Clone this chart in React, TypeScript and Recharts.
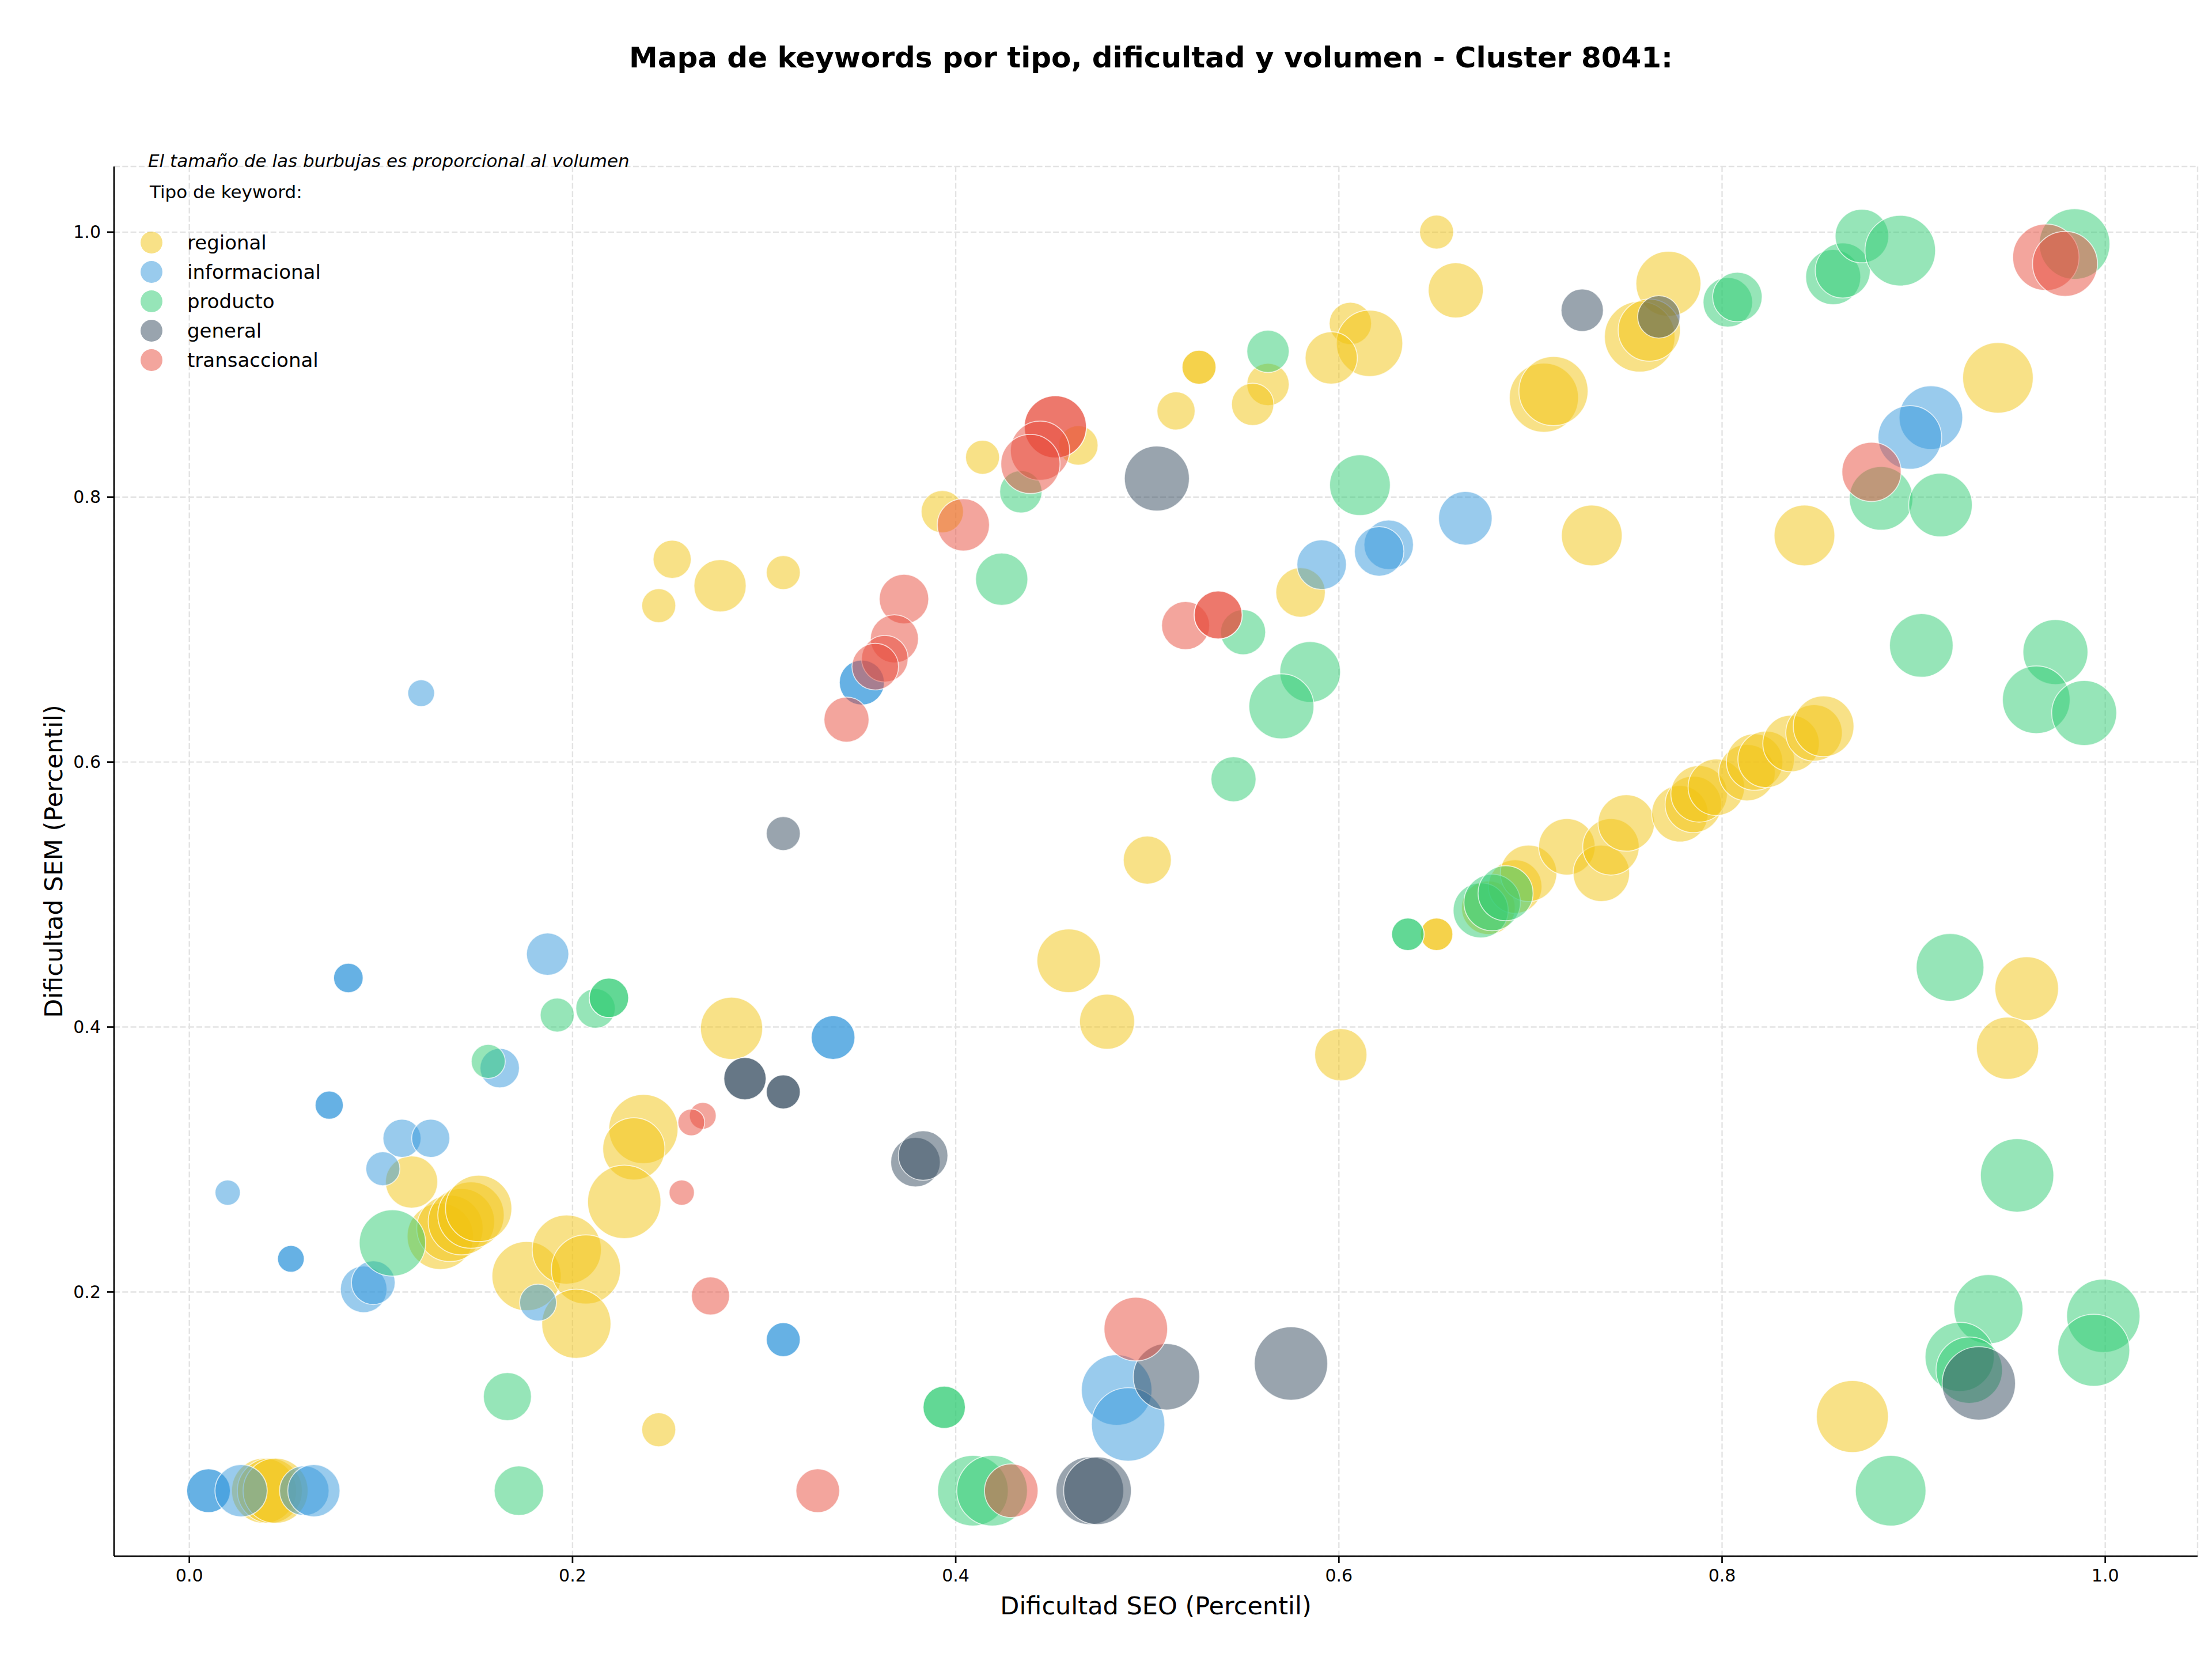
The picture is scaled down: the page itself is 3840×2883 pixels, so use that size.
import { ScatterChart, Scatter, XAxis, YAxis, ZAxis, CartesianGrid, Legend, Label } from 'recharts'

type Pt = [number, number, number]

// [dificultad SEO, dificultad SEM, volumen]
const regional: Pt[] = [
  [0.283, 0.399, 19400], [0.116, 0.283, 13700], [0.237, 0.323, 24000], [0.232, 0.308, 19400],
  [0.227, 0.268, 27000], [0.131, 0.242, 22100], [0.136, 0.248, 22100], [0.142, 0.253, 22100],
  [0.147, 0.258, 22100], [0.151, 0.263, 22100], [0.176, 0.212, 24000], [0.197, 0.232, 24000],
  [0.207, 0.217, 24000], [0.202, 0.176, 24000], [0.245, 0.096, 5800], [0.039, 0.05, 21200],
  [0.042, 0.05, 21200], [0.045, 0.05, 21200], [0.5, 0.526, 11600], [0.459, 0.45, 20300],
  [0.479, 0.404, 15200], [0.601, 0.379, 13700], [0.651, 0.47, 5300], [0.651, 0.47, 5300],
  [0.959, 0.429, 20300], [0.949, 0.384, 19400], [0.868, 0.106, 26000], [0.252, 0.753, 7300],
  [0.245, 0.718, 5800], [0.277, 0.733, 13700], [0.31, 0.743, 5800], [0.651, 1.0, 5800],
  [0.661, 0.956, 15200], [0.606, 0.931, 9000], [0.616, 0.916, 22100], [0.596, 0.905, 13700],
  [0.563, 0.885, 9000], [0.555, 0.87, 9000], [0.527, 0.898, 5800], [0.527, 0.898, 5800],
  [0.515, 0.865, 7300], [0.464, 0.839, 7800], [0.414, 0.83, 5800], [0.393, 0.789, 9000],
  [0.58, 0.728, 12300], [0.772, 0.961, 21200], [0.757, 0.921, 25000], [0.762, 0.926, 19400],
  [0.707, 0.875, 24000], [0.712, 0.88, 24000], [0.944, 0.89, 25000], [0.732, 0.771, 18500],
  [0.843, 0.771, 18500], [0.678, 0.49, 14400], [0.692, 0.506, 14400], [0.699, 0.516, 16000],
  [0.719, 0.536, 16000], [0.737, 0.516, 16000], [0.742, 0.536, 16000], [0.75, 0.554, 16000],
  [0.778, 0.561, 16000], [0.785, 0.568, 16000], [0.788, 0.576, 16000], [0.797, 0.581, 16000],
  [0.813, 0.592, 16000], [0.817, 0.6, 16000], [0.823, 0.602, 16000], [0.836, 0.614, 16000],
  [0.848, 0.622, 16000], [0.853, 0.627, 18500],
]

const informacional: Pt[] = [
  [0.083, 0.437, 4400], [0.083, 0.437, 4400], [0.187, 0.455, 9000], [0.162, 0.369, 7800],
  [0.073, 0.341, 4000], [0.073, 0.341, 4000], [0.111, 0.316, 7300], [0.126, 0.316, 7300],
  [0.101, 0.293, 5800], [0.02, 0.275, 3200], [0.091, 0.202, 10900], [0.096, 0.207, 9600],
  [0.053, 0.225, 3600], [0.053, 0.225, 3600], [0.182, 0.192, 6800], [0.31, 0.164, 5800],
  [0.31, 0.164, 5800], [0.01, 0.05, 9600], [0.01, 0.05, 9600], [0.027, 0.05, 13700],
  [0.06, 0.05, 12300], [0.065, 0.05, 13700], [0.336, 0.392, 9600], [0.336, 0.392, 9600],
  [0.484, 0.126, 25000], [0.49, 0.1, 27000], [0.121, 0.652, 3600], [0.351, 0.66, 10200],
  [0.351, 0.66, 10200], [0.666, 0.784, 14400], [0.591, 0.749, 12300], [0.626, 0.764, 12300],
  [0.621, 0.759, 12300], [0.909, 0.86, 20300], [0.898, 0.845, 20300],
]

const producto: Pt[] = [
  [0.192, 0.409, 5800], [0.212, 0.414, 7800], [0.219, 0.422, 7800], [0.219, 0.422, 7800],
  [0.156, 0.374, 5800], [0.106, 0.237, 22100], [0.166, 0.121, 11600], [0.172, 0.05, 12300],
  [0.394, 0.113, 9000], [0.394, 0.113, 9000], [0.409, 0.05, 25000], [0.419, 0.05, 25000],
  [0.636, 0.47, 5300], [0.636, 0.47, 5300], [0.674, 0.488, 15200], [0.68, 0.494, 16000],
  [0.687, 0.501, 15200], [0.919, 0.445, 23000], [0.954, 0.288, 27000], [0.939, 0.187, 24000],
  [0.999, 0.182, 27000], [0.994, 0.156, 26000], [0.924, 0.151, 24000], [0.929, 0.141, 22100],
  [0.888, 0.05, 25000], [0.563, 0.91, 9000], [0.434, 0.804, 9000], [0.424, 0.738, 13700],
  [0.55, 0.698, 10200], [0.611, 0.809, 18500], [0.585, 0.668, 18500], [0.57, 0.642, 21200],
  [0.545, 0.587, 10200], [0.803, 0.947, 12300], [0.808, 0.951, 12300], [0.858, 0.966, 15200],
  [0.863, 0.971, 15200], [0.873, 0.997, 14400], [0.893, 0.986, 25000], [0.984, 0.991, 25000],
  [0.883, 0.799, 20300], [0.914, 0.794, 20300], [0.904, 0.688, 20300], [0.974, 0.683, 21200],
  [0.964, 0.647, 23000], [0.989, 0.637, 21200],
]

const general: Pt[] = [
  [0.29, 0.361, 9000], [0.29, 0.361, 9000], [0.31, 0.351, 5800], [0.31, 0.351, 5800],
  [0.379, 0.298, 12300], [0.383, 0.303, 12300], [0.47, 0.05, 23000], [0.474, 0.05, 23000],
  [0.51, 0.136, 22100], [0.575, 0.146, 27000], [0.934, 0.131, 27000], [0.31, 0.546, 5800],
  [0.505, 0.814, 21200], [0.727, 0.941, 9000], [0.767, 0.936, 9000],
]

const transaccional: Pt[] = [
  [0.268, 0.333, 3600], [0.262, 0.328, 3600], [0.257, 0.275, 3200], [0.272, 0.197, 7300],
  [0.328, 0.05, 9600], [0.429, 0.05, 14400], [0.494, 0.172, 20300], [0.452, 0.853, 19400],
  [0.452, 0.853, 19400], [0.444, 0.835, 17600], [0.439, 0.825, 17600], [0.404, 0.779, 13700],
  [0.373, 0.723, 12300], [0.368, 0.693, 11600], [0.363, 0.678, 10900], [0.358, 0.672, 10900],
  [0.343, 0.632, 10200], [0.52, 0.703, 11600], [0.537, 0.711, 11600], [0.537, 0.711, 11600],
  [0.969, 0.981, 22100], [0.979, 0.976, 21200], [0.878, 0.819, 17600],
]

const tipos = [
  { name: 'regional', color: '#f1c40f', points: regional },
  { name: 'informacional', color: '#3498db', points: informacional },
  { name: 'producto', color: '#2ecc71', points: producto },
  { name: 'general', color: '#34495e', points: general },
  { name: 'transaccional', color: '#e74c3c', points: transaccional },
]

const xTicks = [0, 0.2, 0.4, 0.6, 0.8, 1.0]
const yTicks = [0.2, 0.4, 0.6, 0.8, 1.0]

const FONT = 'DejaVu Sans'
const W = 3840
const H = 2883
const AREA_PER_VOL = 0.4711

const allVol = tipos.flatMap((t) => t.points.map((p) => p[2]))
const vMin = Math.min(...allVol)
const vMax = Math.max(...allVol)

const toRows = (pts: Pt[]) => pts.map(([seo, sem, vol]) => ({ seo, sem, vol }))

// legend keeps the series order, not the alphabetical one
const renderLegend = (props: any) => {
  const payload = props.payload || []
  const order = tipos.map((t) => t.name)
  const items = [...payload].sort((a: any, b: any) => order.indexOf(a.value) - order.indexOf(b.value))
  return (
    <div style={{ position: 'relative', fontFamily: FONT, color: '#000' }}>
      <div style={{ position: 'absolute', left: 257, top: 259, fontSize: 31, fontStyle: 'italic', whiteSpace: 'nowrap', lineHeight: '40px' }}>
        El tamaño de las burbujas es proporcional al volumen
      </div>
      <div style={{ position: 'absolute', left: 260, top: 313, fontSize: 31, whiteSpace: 'nowrap', lineHeight: '40px' }}>
        Tipo de keyword:
      </div>
      {items.map((entry: any, i: number) => (
        <div
          key={entry.value}
          style={{ position: 'absolute', left: 244, top: 401 + i * 51, height: 40, display: 'flex', alignItems: 'center', whiteSpace: 'nowrap' }}
        >
          <svg width={38} height={38}>
            <circle cx={19} cy={19} r={19} fill={entry.color} fillOpacity={0.5} />
          </svg>
          <span style={{ marginLeft: 43, fontSize: 34 }}>{entry.value}</span>
        </div>
      ))}
    </div>
  )
}

export default function App() {
  return (
    <div style={{ position: 'relative', width: W, height: H, background: '#fff', fontFamily: FONT }}>
      <style>{'body{margin:0}'}</style>
      <div
        style={{
          position: 'absolute', left: 198, width: 3600, top: 71, lineHeight: '58px',
          textAlign: 'center', fontSize: 50, fontWeight: 'bold', color: '#000',
        }}
      >
        Mapa de keywords por tipo, dificultad y volumen - Cluster 8041:
      </div>
      <ScatterChart width={W} height={H} margin={{ top: 289, right: 25, bottom: 82, left: 78 }}>
        <CartesianGrid stroke="#e3e3e3" strokeWidth={2.4} strokeDasharray="10 4.3" />
        <XAxis
          type="number"
          dataKey="seo"
          domain={[-0.0393, 1.0482]}
          ticks={xTicks}
          allowDataOverflow
          height={100}
          tickFormatter={(v: number) => v.toFixed(1)}
          tick={{ fontSize: 30, fill: '#000', fontFamily: FONT }}
          tickSize={12}
          tickMargin={11}
          tickLine={{ stroke: '#000', strokeWidth: 2.7 }}
          axisLine={{ stroke: '#000', strokeWidth: 2.7 }}
        >
          <Label
            content={(p: any) => (
              <text
                x={p.viewBox.x + p.viewBox.width / 2}
                y={p.viewBox.y + 86}
                textAnchor="middle"
                dominantBaseline="central"
                fontSize={43}
                fontFamily={FONT}
                fill="#000"
              >
                Dificultad SEO (Percentil)
              </text>
            )}
          />
        </XAxis>
        <YAxis
          type="number"
          dataKey="sem"
          domain={[0.0006, 1.0495]}
          ticks={yTicks}
          allowDataOverflow
          width={120}
          tickFormatter={(v: number) => v.toFixed(1)}
          tick={{ fontSize: 30, fill: '#000', fontFamily: FONT }}
          tickSize={12}
          tickMargin={11}
          tickLine={{ stroke: '#000', strokeWidth: 2.7 }}
          axisLine={{ stroke: '#000', strokeWidth: 2.7 }}
        >
          <Label
            content={(p: any) => {
              const cx = p.viewBox.x + 15
              const cy = p.viewBox.y + p.viewBox.height / 2
              return (
                <text
                  x={cx}
                  y={cy}
                  transform={`rotate(-90 ${cx} ${cy})`}
                  textAnchor="middle"
                  dominantBaseline="central"
                  fontSize={43}
                  fontFamily={FONT}
                  fill="#000"
                >
                  Dificultad SEM (Percentil)
                </text>
              )
            }}
          />
        </YAxis>
        <ZAxis type="number" dataKey="vol" domain={[vMin, vMax]} range={[vMin * AREA_PER_VOL, vMax * AREA_PER_VOL]} />
        <Legend
          layout="vertical"
          align="center"
          verticalAlign="middle"
          content={renderLegend}
          wrapperStyle={{ left: 0, top: 0, width: 0, height: 0 }}
        />
        {tipos.map((t) => (
          <Scatter
            key={t.name}
            name={t.name}
            data={toRows(t.points)}
            fill={t.color}
            fillOpacity={0.5}
            stroke="#ffffff"
            strokeWidth={1.7}
            strokeOpacity={0.7}
            isAnimationActive={false}
          />
        ))}
      </ScatterChart>
    </div>
  )
}
